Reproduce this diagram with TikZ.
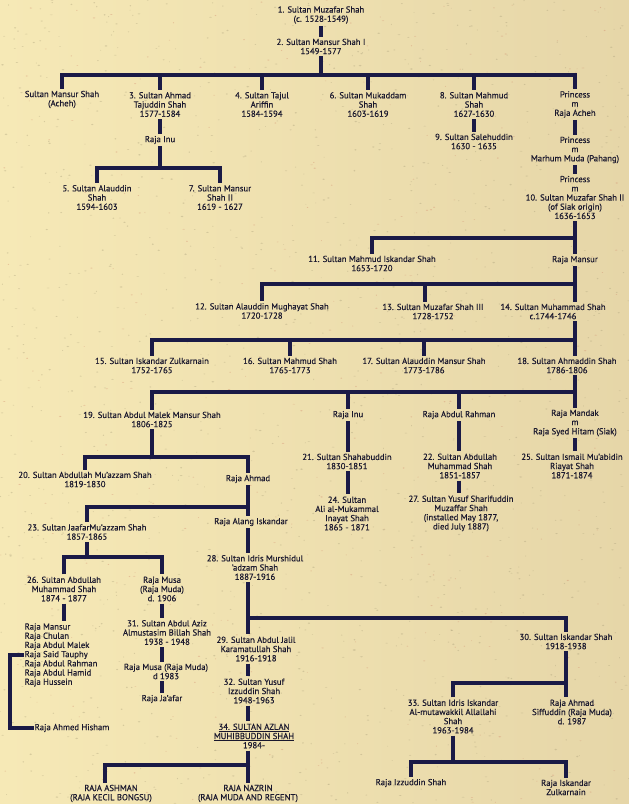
\documentclass[tikz,border=0pt]{standalone}
\usepackage{fontspec}
\setmainfont[FakeBold=0.35]{PT Sans}
\definecolor{paperl}{RGB}{246,233,182}
\definecolor{paperr}{RGB}{230,214,168}
\definecolor{ink}{RGB}{26,24,46}
\definecolor{barc}{RGB}{26,26,70}
\definecolor{specko}{RGB}{160,150,115}
\definecolor{speckr}{RGB}{205,125,100}
\tikzset{
  t/.style={align=center, inner xsep=0.5pt, inner ysep=2pt, text=ink, font=\fontsize{8.7}{9.2}\selectfont},
  tl/.style={t, align=left},
  ln/.style={draw=barc, line width=3.6pt, line join=miter},
}
\begin{document}
\begin{tikzpicture}[x=1pt,y=-1pt]
\shade[left color=paperl, right color=paperr] (0,0) rectangle (629,804);
\useasboundingbox (0,0) rectangle (629,804);
\pgfmathsetseed{42}
\foreach \i in {1,...,1400}{\fill[specko,opacity=0.35] (629*rnd,804*rnd) ellipse[x radius=0.4+1.1*rnd, y radius=0.3+0.5*rnd];}
\foreach \i in {1,...,350}{\fill[speckr,opacity=0.35] (629*rnd,804*rnd) ellipse[x radius=0.4+1.0*rnd, y radius=0.3+0.4*rnd];}

% ---- nodes ----
\node[t] (n1) at (321,15) {1. Sultan Muzafar Shah\\(c. 1528-1549)};
\node[t] (n2) at (321,46.5) {2. Sultan Mansur Shah I\\1549-1577};
\node[t] (c0) at (62,99.5) {Sultan Mansur Shah\\(Acheh)};
\node[t] (n3) at (160,104.5) {3. Sultan Ahmad\\Tajuddin Shah\\1577-1584};
\node[t] (n4) at (262,104.5) {4. Sultan Tajul\\Ariffin\\1584-1594};
\node[t] (n6) at (368,104.5) {6. Sultan Mukaddam\\Shah\\1603-1619};
\node[t] (n8) at (474,104.5) {8. Sultan Mahmud\\Shah\\1627-1630};
\node[t] (p1) at (575,104.5) {Princess\\m\\Raja Acheh};
\node[t] (rinu1) at (160,140) {Raja Inu};
\node[t] (n9) at (474,141.5) {9. Sultan Salehuddin\\1630 - 1635};
\node[t] (p2) at (575,150) {Princess\\m\\Marhum Muda (Pahang)};
\node[t] (n10) at (575,197.5) {Princess\\m\\10. Sultan Muzafar Shah II\\(of Siak origin)\\1636-1653};
\node[t] (n5) at (97,197.5) {5. Sultan Alauddin\\Shah\\1594-1603};
\node[t] (n7) at (220,197.5) {7. Sultan Mansur\\Shah II\\1619 - 1627};
\node[t] (n11) at (372,263.5) {11. Sultan Mahmud Iskandar Shah\\1653-1720};
\node[t] (rmansur) at (575,260) {Raja Mansur};
\node[t] (n12) at (262,311) {12. Sultan Alauddin Mughayat Shah\\1720-1728};
\node[t] (n13) at (433,311.5) {13. Sultan Muzafar Shah III\\1728-1752};
\node[t] (n14) at (553,311.5) {14. Sultan Muhammad Shah\\c.1744-1746};
\node[t] (n15) at (152,365.5) {15. Sultan Iskandar Zulkarnain\\1752-1765};
\node[t] (n16) at (290,365.5) {16. Sultan Mahmud Shah\\1765-1773};
\node[t] (n17) at (424,365.5) {17. Sultan Alauddin Mansur Shah\\1773-1786};
\node[t] (n18) at (567,365.5) {18. Sultan Ahmaddin Shah\\1786-1806};
\node[t] (n19) at (152,419.5) {19. Sultan Abdul Malek Mansur Shah\\1806-1825};
\node[t] (rinu2) at (348,415) {Raja Inu};
\node[t] (rar) at (459,415) {Raja Abdul Rahman};
\node[t] (rmandak) at (575,423) {Raja Mandak\\m\\Raja Syed Hitam (Siak)};
\node[t] (n21) at (347,461.5) {21. Sultan Shahabuddin\\1830-1851};
\node[t] (n22) at (460,466) {22. Sultan Abdullah\\Muhammad Shah\\1851-1857};
\node[t] (n25) at (572,466) {25. Sultan Ismail Mu'abidin\\Riayat Shah\\1871-1874};
\node[t] (n24) at (347,513.5) {24. Sultan\\Ali al-Mukammal\\Inayat Shah\\1865 - 1871};
\node[t] (n27) at (461,513.5) {27. Sultan Yusuf Sharifuddin\\Muzaffar Shah\\(installed May 1877,\\died July 1887)};
\node[t] (n20) at (85,479.5) {20. Sultan Abdullah Mu'azzam Shah\\1819-1830};
\node[t] (rahmad) at (248,479) {Raja Ahmad};
\node[t] (ralang) at (251,522) {Raja Alang Iskandar};
\node[t] (n23) at (87,532) {23. Sultan JaafarMu'azzam Shah\\1857-1865};
\node[t] (n28) at (255,567.5) {28. Sultan Idris Murshidul\\'adzam Shah\\1887-1916};
\node[t] (n26) at (64,589) {26. Sultan Abdullah\\Muhammad Shah\\1874 - 1877};
\node[t] (rmusa1) at (162,589) {Raja Musa\\(Raja Muda)\\d. 1906};
\node[tl, anchor=west] (kids) at (24,655) {Raja Mansur\\Raja Chulan\\Raja Abdul Malek\\Raja Said Tauphy\\Raja Abdul Rahman\\Raja Abdul Hamid\\Raja Hussein};
\node[t, anchor=west] (rhisham) at (34,728) {Raja Ahmed Hisham};
\node[t] (n31) at (167,632.5) {31. Sultan Abdul Aziz\\Almustasim Billah Shah\\1938 - 1948};
\node[t] (rmusa2) at (166,671.5) {Raja Musa (Raja Muda)\\d 1983};
\node[t] (rjaafar) at (162,699) {Raja Ja'afar};
\node[t] (n29) at (256,649) {29. Sultan Abdul Jalil\\Karamatullah Shah\\1916-1918};
\node[t] (n30) at (566,641.5) {30. Sultan Iskandar Shah\\1918-1938};
\node[t] (n32) at (254,691) {32. Sultan Yusuf\\Izzuddin Shah\\1948-1963};
\node[t] (n34) at (254,736) {\underline{34. SULTAN AZLAN}\\\underline{MUHIBBUDDIN SHAH}\\1984-};
\node[t] (rashman) at (111,793.5) {RAJA ASHMAN\\(RAJA KECIL BONGSU)};
\node[t] (rnazrin) at (248,793.5) {RAJA NAZRIN\\(RAJA MUDA AND REGENT)};
\node[t] (n33) at (453,716.5) {33. Sultan Idris Iskandar\\Al-mutawakkil Allallahi\\Shah\\1963-1984};
\node[t] (rahmad2) at (572,712) {Raja Ahmad\\Siffuddin (Raja Muda)\\d. 1987};
\node[t] (rizz) at (411,783) {Raja Izzuddin Shah};
\node[t] (risk) at (566,787.5) {Raja Iskandar\\Zulkarnain};

% ---- helper coordinates ----
\coordinate (b2) at (0,75);
\coordinate (b3) at (0,168);
\coordinate (b10) at (0,238);
\coordinate (b12) at (0,284);
\coordinate (b15) at (0,340);
\coordinate (b19) at (0,392);
\coordinate (b20) at (0,457);
\coordinate (b23) at (0,507);
\coordinate (b26) at (0,557);
\coordinate (b29) at (0,618);
\coordinate (b33) at (0,683);
\coordinate (b35) at (0,765);
\coordinate (b36) at (0,762);
\coordinate (xr) at (575,0);
\coordinate (x13) at (425,0);
\coordinate (x28) at (248,0);
\coordinate (x31) at (162,0);
\coordinate (xa) at (105,0);
\coordinate (tauphy) at (24,655);

% ---- connectors ----
\draw[ln] (n1) -- (n2);
\draw[ln] (n2) -- (n2 |- b2);
\draw[ln] (c0) -- (c0 |- b2) -- (p1 |- b2) -- (p1);
\foreach \c in {n3,n4,n6,n8} \draw[ln] (\c |- b2) -- (\c);
\draw[ln] (n3) -- (rinu1);
\draw[ln] (n8) -- (n9);
\draw[ln] (p1) -- (p2);
\draw[ln] (p2) -- (n10);
\draw[ln] (rinu1) -- (rinu1 |- b3);
\draw[ln] (n5) -- (n5 |- b3) -- (n7 |- b3) -- (n7);

\draw[ln] (n10) -- (rmansur);
\draw[ln] (n11) -- (n11 |- b10) -- (xr |- b10);
\draw[ln] (rmansur) -- (xr |- n14.north);
\draw[ln] (n12) -- (n12 |- b12) -- (xr |- b12);
\draw[ln] (x13 |- b12) -- (x13 |- n13.north);

\draw[ln] (xr |- n14.south) -- (xr |- n18.north);
\draw[ln] (n15) -- (n15 |- b15) -- (xr |- b15);
\draw[ln] (n16 |- b15) -- (n16);
\draw[ln] (n17 |- b15) -- (n17);

\draw[ln] (xr |- n18.south) -- (rmandak);
\draw[ln] (n19) -- (n19 |- b19) -- (xr |- b19);
\draw[ln] (rinu2 |- b19) -- (rinu2);
\draw[ln] (rar |- b19) -- (rar);

\draw[ln] (rinu2) -- (rinu2 |- n21.north);
\draw[ln] (rinu2 |- n21.south) -- (rinu2 |- n24.north);
\draw[ln] (rar) -- (rar |- n22.north);
\draw[ln] (rar |- n22.south) -- (rar |- n27.north);
\draw[ln] (rmandak) -- (rmandak |- n25.north);

\draw[ln] (n19) -- (n19 |- b20);
\draw[ln] (n20) -- (n20 |- b20) -- (x28 |- b20) -- (x28 |- rahmad.north);
\draw[ln] (x28 |- rahmad.south) -- (x28 |- ralang.north);
\draw[ln] (n23) -- (n23 |- b23) -- (x28 |- b23);
\draw[ln] (n23) -- (n23 |- b26);
\draw[ln] (n26) -- (n26 |- b26) -- (rmusa1 |- b26) -- (rmusa1);
\draw[ln] (x28 |- ralang.south) -- (x28 |- n28.north);

\draw[ln] (n26) -- (n26 |- kids.north);
\draw[ln] (tauphy) -- ++(-14,0) |- (rhisham.west);

\draw[ln] (x31 |- rmusa1.south) -- (x31 |- n31.north);
\draw[ln] (x31 |- n31.south) -- (x31 |- rmusa2.north);
\draw[ln] (x31 |- rmusa2.south) -- (x31 |- rjaafar.north);

\draw[ln] (x28 |- n28.south) -- (x28 |- n29.north);
\draw[ln] (x28 |- b29) -- (n30 |- b29) -- (n30);
\draw[ln] (x28 |- n29.south) -- (x28 |- n32.north);
\draw[ln] (x28 |- n32.south) -- (x28 |- n34.north);
\draw[ln] (x28 |- n34.south) -- (rnazrin);
\draw[ln] (xa |- rashman.north) -- (xa |- b35) -- (x28 |- b35);

\draw[ln] (n30) -- (n30 |- rahmad2.north);
\draw[ln] (n33) -- (n33 |- b33) -- (n30 |- b33);
\draw[ln] (n33) -- (n33 |- b36);
\draw[ln] (rizz) -- (rizz |- b36) -- (risk |- b36) -- (risk);
\end{tikzpicture}
\end{document}
